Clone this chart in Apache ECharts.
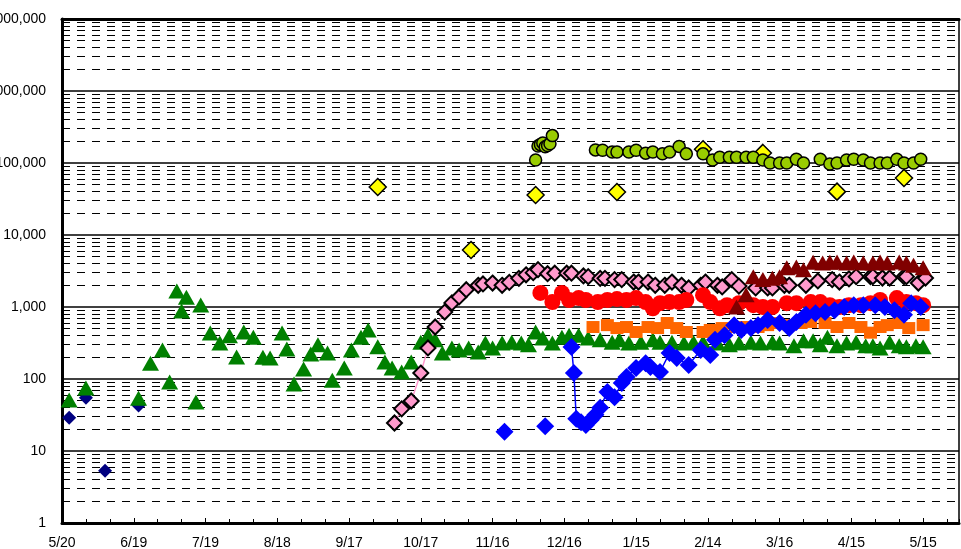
<!DOCTYPE html>
<html>
<head>
<meta charset="utf-8">
<style>
  html, body { margin: 0; padding: 0; background: #fff; }
  #chart { width: 961px; height: 549px; }
</style>
<script src="https://cdn.jsdelivr.net/npm/echarts@6/dist/echarts.min.js"></script>
</head>
<body>
<div id="chart"></div>
<script>
// Date labels shown under the axis, one every 30 days starting at 5/20
const tickLabels = ['5/20', '6/19', '7/19', '8/18', '9/17', '10/17', '11/16',
  '12/16', '1/15', '2/14', '3/16', '4/15', '5/15'];

// Observations as [month/day, value]; 5/20 onwards belongs to the first year
const navyDiamonds = [['5/23', 29], ['5/30', 55], ['6/7', 5.3], ['6/21', 43]];

const greenTriangles = [
  ['5/23', 51], ['5/30', 75], ['6/21', 54], ['6/26', 166], ['7/1', 253], ['7/4', 91],
  ['7/7', 1670], ['7/9', 880], ['7/11', 1370], ['7/15', 48], ['7/17', 1070], ['7/21', 436],
  ['7/25', 316], ['7/29', 398], ['8/1', 202], ['8/4', 450], ['8/8', 380], ['8/12', 201],
  ['8/15', 195], ['8/20', 436], ['8/22', 260], ['8/25', 85], ['8/29', 138], ['9/1', 222],
  ['9/4', 300], ['9/8', 230], ['9/10', 96], ['9/15', 142], ['9/18', 253], ['9/22', 380],
  ['9/25', 480], ['9/29', 280], ['10/2', 172], ['10/5', 142], ['10/9', 125], ['10/13', 172],
  ['10/17', 325], ['10/20', 405], ['10/23', 350], ['10/26', 230], ['10/30', 270], ['11/2', 253],
  ['11/6', 270], ['11/10', 237], ['11/13', 316], ['11/16', 270], ['11/20', 316], ['11/24', 325],
  ['11/28', 316], ['12/1', 300], ['12/4', 450], ['12/7', 370], ['12/11', 316], ['12/15', 380],
  ['12/18', 405], ['12/22', 405], ['12/26', 370], ['12/31', 350], ['1/5', 325], ['1/8', 350],
  ['1/12', 316], ['1/17', 325], ['1/22', 350], ['1/25', 325], ['1/30', 325], ['2/4', 316],
  ['2/8', 325], ['2/12', 325], ['2/18', 316], ['2/23', 300], ['2/27', 316], ['3/4', 325],
  ['3/8', 316], ['3/13', 325], ['3/16', 316], ['3/22', 290], ['3/26', 340], ['3/30', 340],
  ['4/2', 300], ['4/5', 380], ['4/9', 290], ['4/13', 316], ['4/17', 325], ['4/21', 290],
  ['4/24', 290], ['4/27', 270], ['5/1', 325], ['5/5', 290], ['5/8', 280], ['5/12', 290],
  ['5/15', 280]
];

const yellowDiamonds = [
  ['9/29', 46400], ['11/7', 6200], ['12/4', 35900], ['1/7', 39500],
  ['2/12', 155000], ['3/9', 138000], ['4/9', 40000], ['5/7', 62000]
];

const limeCircles = [
  ['12/4', 110000], ['12/5', 172000], ['12/6', 180000], ['12/7', 190000], ['12/8', 168000],
  ['12/9', 175000], ['12/10', 185000], ['12/11', 240000],
  ['12/29', 152000], ['1/1', 150000], ['1/5', 142000], ['1/7', 142000], ['1/12', 142000],
  ['1/15', 150000], ['1/19', 137000], ['1/22', 142000], ['1/26', 134000], ['1/29', 142000],
  ['2/2', 170000], ['2/5', 134000], ['2/12', 134000], ['2/16', 110000], ['2/19', 120000],
  ['2/23', 120000], ['2/26', 120000], ['3/2', 120000], ['3/5', 120000], ['3/9', 110000],
  ['3/12', 100000], ['3/16', 100000], ['3/19', 100000], ['3/23', 113000], ['3/26', 100000],
  ['4/2', 113000], ['4/6', 97000], ['4/9', 100000], ['4/13', 110000], ['4/16', 113000],
  ['4/20', 110000], ['4/23', 100000], ['4/27', 100000], ['4/30', 100000], ['5/4', 113000],
  ['5/7', 100000], ['5/11', 100000], ['5/14', 113000]
];

const pinkDiamonds = [
  ['10/6', 24.5], ['10/9', 38.5], ['10/13', 49.5], ['10/17', 121], ['10/20', 270], ['10/23', 527],
  ['10/27', 850], ['10/30', 1140], ['11/2', 1380], ['11/5', 1740], ['11/10', 2000], ['11/12', 2090],
  ['11/16', 2150], ['11/20', 2000], ['11/23', 2200], ['11/27', 2500], ['11/30', 2800], ['12/3', 3000],
  ['12/5', 3300], ['12/9', 2900], ['12/12', 2950], ['12/17', 2950], ['12/19', 2950], ['12/24', 2700],
  ['12/26', 2640], ['12/31', 2500], ['1/2', 2500], ['1/6', 2400], ['1/9', 2400], ['1/14', 2220],
  ['1/16', 2220], ['1/20', 2220], ['1/23', 2000], ['1/27', 2000], ['1/30', 2220], ['2/3', 2000],
  ['2/6', 1840], ['2/11', 2000], ['2/13', 2220], ['2/18', 2000], ['2/20', 1900], ['2/24', 2400],
  ['2/27', 1950], ['3/6', 1840], ['3/11', 1840], ['3/13', 1840], ['3/18', 2000], ['3/20', 2000],
  ['3/27', 2000], ['4/1', 2300], ['4/7', 2400], ['4/10', 2220], ['4/14', 2460], ['4/17', 2640],
  ['4/23', 2640], ['4/24', 2640], ['4/28', 2530], ['5/1', 2530], ['5/7', 2640], ['5/8', 2640],
  ['5/13', 2150], ['5/16', 2530]
];

const redCircles = [
  ['12/6', 1570], ['12/11', 1170], ['12/15', 1570], ['12/18', 1250], ['12/22', 1330], ['12/25', 1250],
  ['12/30', 1170], ['1/3', 1250], ['1/7', 1290], ['1/11', 1250], ['1/15', 1330], ['1/19', 1170],
  ['1/22', 960], ['1/25', 1130], ['1/29', 1170], ['2/2', 1170], ['2/5', 1250], ['2/12', 1460],
  ['2/15', 1170], ['2/19', 960], ['2/22', 1060], ['2/27', 1130], ['3/5', 1060], ['3/9', 1000],
  ['3/13', 1000], ['3/19', 1130], ['3/23', 1130], ['3/29', 1170], ['4/2', 1170], ['4/6', 1060],
  ['4/10', 1000], ['4/14', 1060], ['4/19', 1060], ['4/23', 1130], ['4/27', 1250], ['5/4', 1330],
  ['5/8', 1170], ['5/12', 1130], ['5/15', 1060]
];

const orangeSquares = [
  ['12/28', 527], ['1/3', 560], ['1/7', 510], ['1/11', 527], ['1/15', 450], ['1/20', 527],
  ['1/24', 510], ['1/28', 600], ['2/1', 510], ['2/5', 450], ['2/12', 450], ['2/15', 480],
  ['2/20', 510], ['2/26', 527], ['3/2', 527], ['3/7', 527], ['3/11', 560], ['3/15', 600],
  ['3/20', 560], ['3/25', 600], ['3/29', 620], ['4/4', 600], ['4/9', 527], ['4/14', 600],
  ['4/19', 527], ['4/23', 440], ['4/27', 527], ['4/30', 560], ['5/5', 600], ['5/9', 510],
  ['5/15', 560]
];

// Early blue readings stand alone; the rest are joined by a line
const blueIsolated = [['11/21', 18.5], ['12/8', 22]];
const blueDiamonds = [
  ['12/19', 278], ['12/20', 121], ['12/21', 28], ['12/23', 25], ['12/25', 23], ['12/27', 27],
  ['12/29', 32], ['12/31', 40], ['1/3', 66], ['1/6', 56], ['1/9', 88], ['1/11', 107],
  ['1/15', 142], ['1/19', 166], ['1/21', 147], ['1/25', 125], ['1/29', 230], ['2/1', 195],
  ['2/6', 156], ['2/11', 253], ['2/15', 215], ['2/17', 350], ['2/21', 405], ['2/25', 560],
  ['2/28', 480], ['3/4', 510], ['3/7', 560], ['3/11', 660], ['3/16', 600], ['3/20', 510],
  ['3/23', 620], ['3/27', 780], ['3/31', 820], ['4/4', 850], ['4/8', 900], ['4/12', 1000],
  ['4/16', 1060], ['4/20', 1060], ['4/25', 1060], ['4/29', 1000], ['5/3', 900], ['5/7', 780],
  ['5/10', 1130], ['5/14', 1000]
];

const maroonTriangles = [
  ['2/26', 1000], ['3/2', 1480], ['3/5', 2630], ['3/9', 2400], ['3/13', 2500], ['3/16', 2630],
  ['3/19', 3500], ['3/23', 3600], ['3/26', 3300], ['3/30', 4200], ['4/3', 4100], ['4/6', 4200],
  ['4/9', 4220], ['4/13', 4100], ['4/16', 4220], ['4/20', 4100], ['4/24', 4100], ['4/27', 4220],
  ['4/30', 4100], ['5/5', 4220], ['5/8', 4100], ['5/11', 3800], ['5/15', 3500]
];

// Days elapsed since 5/20 of the first year
const START = Date.UTC(2020, 4, 20);
function dayOf(md) {
  const [m, d] = md.split('/').map(Number);
  const year = (m > 5 || (m === 5 && d >= 20)) ? 2020 : 2021;
  return (Date.UTC(year, m - 1, d) - START) / 86400000;
}
const toXY = arr => arr.map(([md, v]) => [dayOf(md), v]);

// Dashed minor gridlines at 2..9 within every decade
const minorLines = [];
for (let k = 0; k < 7; k++) {
  for (let m = 2; m <= 9; m++) minorLines.push({ yAxis: m * Math.pow(10, k) });
}

const FONT = 'Liberation Sans, Arial, sans-serif';

function scatter(name, data, symbol, size, color, border) {
  return {
    name, type: 'scatter', data: toXY(data), symbol, symbolSize: size, z: 3,
    itemStyle: border
      ? { color, borderColor: '#000', borderWidth: border, opacity: 1 }
      : { color, opacity: 1 }
  };
}

const chart = echarts.init(document.getElementById('chart'), null, { renderer: 'canvas' });
chart.setOption({
  animation: false,
  backgroundColor: '#fff',
  grid: {
    left: 62, right: 2, top: 19, bottom: 26,
    containLabel: false, outerBoundsMode: 'none',
    show: true, borderColor: '#000', borderWidth: 1.5
  },
  xAxis: [
    {
      type: 'value', min: 0, max: 375, interval: 30,
      axisLine: { show: true, lineStyle: { color: '#000', width: 3 } },
      axisTick: { show: true, inside: true, length: 5, lineStyle: { color: '#000', width: 1 } },
      splitLine: { show: false },
      axisLabel: {
        margin: 13, color: '#000', fontFamily: FONT, fontSize: 14, showMaxLabel: false,
        formatter: v => (v % 30 === 0 ? (tickLabels[v / 30] || '') : '')
      }
    },
    {
      type: 'value', min: 0, max: 375, interval: 10, position: 'bottom',
      axisLine: { show: false },
      axisTick: { show: true, inside: true, length: 4, lineStyle: { color: '#000', width: 1 } },
      axisLabel: { show: false }, splitLine: { show: false }
    },
    {
      type: 'value', min: 0, max: 375, position: 'top',
      axisLine: { show: true, lineStyle: { color: '#000', width: 3 } },
      axisTick: { show: false }, axisLabel: { show: false }, splitLine: { show: false }
    }
  ],
  yAxis: {
    type: 'log', logBase: 10, min: 1, max: 10000000, splitNumber: 7,
    axisLine: { show: true, lineStyle: { color: '#000', width: 3 } },
    axisTick: { show: false },
    splitLine: { show: true, lineStyle: { color: '#000', width: 1.5 } },
    axisLabel: {
      margin: 16, color: '#000', fontFamily: FONT, fontSize: 14,
      formatter: v => Math.round(v).toLocaleString('en-US')
    }
  },
  series: [
    {
      name: 'minor grid', type: 'scatter', data: [], silent: true, z: 1,
      markLine: {
        silent: true, symbol: ['none', 'none'], z: 1, animation: false,
        label: { show: false },
        lineStyle: { color: '#000', width: 1, type: [8, 7] },
        data: minorLines
      }
    },
    scatter('navy', navyDiamonds, 'diamond', 14, '#000080', 0),
    scatter('green', greenTriangles, 'triangle', [17, 15], '#008000', 0),
    scatter('yellow', yellowDiamonds, 'diamond', 17, '#FFFF00', 1.5),
    scatter('lime', limeCircles, 'circle', 12, '#99CC00', 1.5),
    {
      name: 'pink', type: 'line', data: toXY(pinkDiamonds), z: 3,
      symbol: 'diamond', symbolSize: 15, showSymbol: true,
      lineStyle: { color: '#FF99CC', width: 1.5 },
      itemStyle: { color: '#FF99CC', borderColor: '#000', borderWidth: 2 }
    },
    scatter('red', redCircles, 'circle', 16, '#FF0000', 0),
    scatter('orange', orangeSquares, 'rect', [13, 12], '#FF6600', 0),
    scatter('blue early', blueIsolated, 'diamond', 18, '#0000FF', 0),
    {
      name: 'blue', type: 'line', data: toXY(blueDiamonds), z: 3,
      symbol: 'diamond', symbolSize: 18, showSymbol: true,
      lineStyle: { color: '#0000FF', width: 1.5 },
      itemStyle: { color: '#0000FF' }
    },
    scatter('maroon', maroonTriangles, 'triangle', [17, 15], '#800000', 0)
  ]
});
</script>
</body>
</html>
